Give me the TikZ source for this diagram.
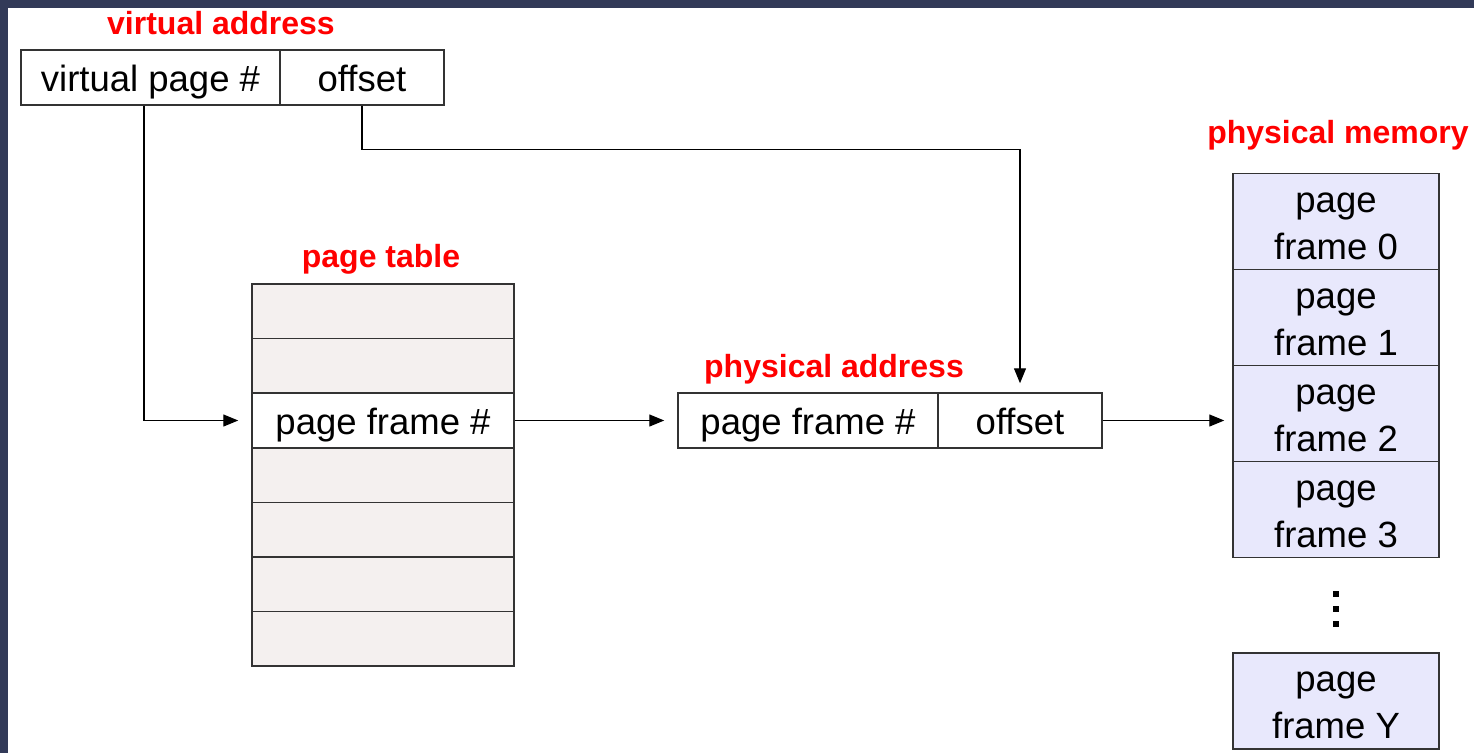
\documentclass[tikz,border=0pt]{standalone}
\usepackage{fontspec}
\setmainfont{Liberation Sans}
\usetikzlibrary{arrows.meta}
\definecolor{frameblue}{HTML}{323A58}
\definecolor{ptfill}{HTML}{F4F0EF}
\definecolor{memfill}{HTML}{E8E8FC}
\definecolor{boxline}{HTML}{333333}
\definecolor{lblred}{HTML}{FF0000}
\begin{document}
\begin{tikzpicture}[x=1pt,y=-1pt,
  cell/.style={draw=boxline, line width=1.5pt, inner sep=0pt, font=\fontsize{36.5}{47}\selectfont, text height=33pt, text depth=5pt},
  ptrow/.style={cell, fill=ptfill, minimum width=262pt, minimum height=54.6pt},
  memcell/.style={draw=boxline, line width=1.5pt, inner sep=0pt, fill=memfill, minimum width=206pt, minimum height=96pt},
  memtext/.style={inner sep=0pt, align=center, font=\fontsize{36.5}{47}\selectfont},
  lbl/.style={text=lblred, font=\fontsize{32}{36}\selectfont\bfseries, inner sep=0pt},
  conn/.style={draw=black, line width=1.3pt, -{Triangle[length=15pt,width=12pt]}},
  dotsq/.style={fill=black, minimum size=6pt, inner sep=0pt}
]
\useasboundingbox (0,0) rectangle (1474,753);
\fill[white] (0,0) rectangle (1474,753);
\fill[frameblue] (0,0) rectangle (1474,8);
\fill[frameblue] (0,0) rectangle (8,753);

% virtual address
\node[lbl] (valbl) at (221,23) {virtual address};
\node[cell, minimum width=259pt, minimum height=55pt] (va1) at (150.5,77.5) {virtual page \#};
\node[cell, minimum width=164pt, minimum height=55pt] (va2) at (362,77.5) {offset};

% page table
\node[lbl] (ptlbl) at (381,259) {page table};
\node[ptrow] (pt1) at (383,311.3) {};
\node[ptrow] (pt2) at (383,365.9) {};
\node[ptrow, fill=white] (pt3) at (383,420.5) {page frame \#};
\node[ptrow] (pt4) at (383,475.1) {};
\node[ptrow] (pt5) at (383,529.7) {};
\node[ptrow] (pt6) at (383,584.3) {};
\node[ptrow] (pt7) at (383,638.9) {};

% physical address
\node[lbl] (palbl) at (834,369) {physical address};
\node[cell, minimum width=260pt, minimum height=55pt] (pa1) at (808,420.5) {page frame \#};
\node[cell, minimum width=164pt, minimum height=55pt] (pa2) at (1020,420.5) {offset};

% physical memory
\node[lbl] (pmlbl) at (1338,135) {physical memory};
\node[memcell] (m0) at (1336,221.5) {};
\node[memcell] (m1) at (1336,317.5) {};
\node[memcell] (m2) at (1336,413.5) {};
\node[memcell] (m3) at (1336,509.5) {};
\node[memcell] (mY) at (1336,701) {};
\node[memtext] (m0t) at ([yshift=-4.5pt]m0.center) {page\\frame 0};
\node[memtext] (m1t) at ([yshift=-4.5pt]m1.center) {page\\frame 1};
\node[memtext] (m2t) at ([yshift=-4.5pt]m2.center) {page\\frame 2};
\node[memtext] (m3t) at ([yshift=-4.5pt]m3.center) {page\\frame 3};
\node[memtext] (mYt) at ([yshift=-4.5pt]mY.center) {page\\frame Y};
\node[dotsq] (d1) at (1336,594) {};
\node[dotsq] (d2) at (1336,609) {};
\node[dotsq] (d3) at (1336,624) {};

% connectors
\coordinate (vpd) at ([xshift=-6.5pt]va1.south);
\draw[conn, shorten >=13pt] (vpd) |- (pt3.west);
\draw[conn, shorten >=9pt] (va2.south) -- ++(0,44) -| (pa2.north);
\draw[conn, shorten >=13pt] (pt3.east) -- (pt3.east -| pa1.west);
\draw[conn, shorten >=8pt] (pa2.east) -- (pa2.east -| m2.west);
\end{tikzpicture}
\end{document}
